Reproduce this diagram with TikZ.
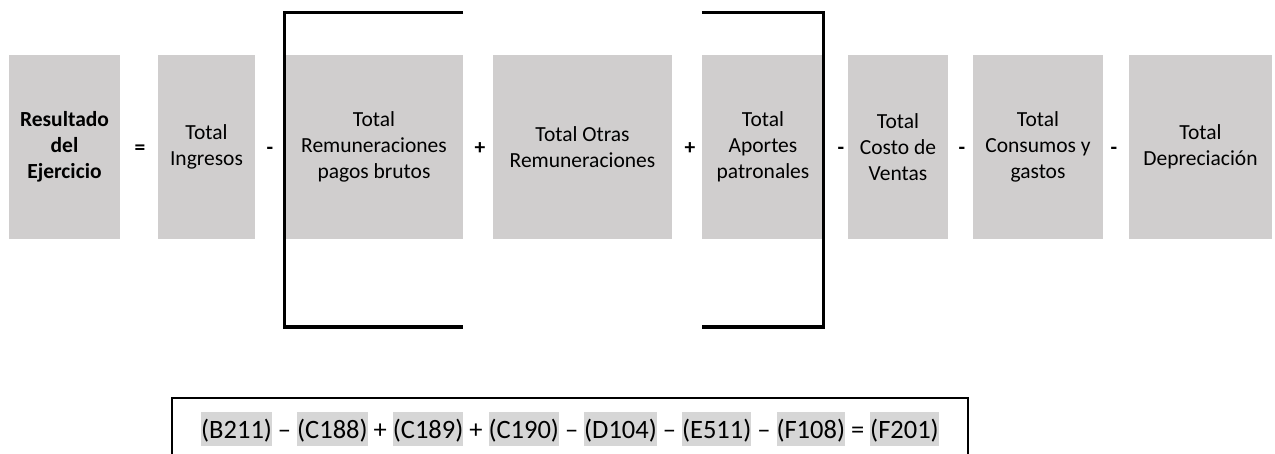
\documentclass[tikz,border=0pt]{standalone}
\usepackage{fontspec}
\setmainfont{Carlito}
\definecolor{boxgray}{RGB}{208,206,206}
\definecolor{refgray}{RGB}{214,214,214}
\newcommand{\cellref}[1]{{\setlength{\fboxsep}{0pt}\colorbox{refgray}{\rule[-0.28em]{0pt}{1.25em}#1}}}
\tikzset{
  termbox/.style={fill=boxgray, inner sep=0pt, minimum height=184pt, align=center,
    font=\fontsize{21.5}{26}\selectfont},
  opsign/.style={anchor=base, inner sep=0pt, font=\fontsize{21.5}{26}\selectfont\bfseries},
  bracketline/.style={line width=3.2pt},
}
\begin{document}
\begin{tikzpicture}[x=1pt,y=-1pt]
  \useasboundingbox (0,0) rectangle (1275,454);
  \clip (0,0) rectangle (1275,454);

  % terms
  \node[termbox, minimum width=111pt, font=\fontsize{21.5}{26}\selectfont\bfseries] (res) at (64.5,147) {Resultado\\del\\Ejercicio};
  \node[termbox, minimum width=97pt] (ingresos) at (206.5,147) {Total\\Ingresos};
  \node[termbox, minimum width=178pt] (remun) at (374,147) {Total\\Remuneraciones\\pagos brutos};
  \node[termbox, minimum width=179pt] (otras) at (582.5,147) {Total Otras\\Remuneraciones};
  \node[termbox, minimum width=122pt] (aportes) at (763,147) {Total\\Aportes\\patronales};
  \node[termbox, minimum width=100pt] (costo) at (898,147) {Total\\Costo de\\Ventas};
  \node[termbox, minimum width=130pt] (consumos) at (1038,147) {Total\\Consumos y\\gastos};
  \node[termbox, minimum width=143pt] (deprec) at (1200.5,147) {Total\\Depreciación};

  % signs
  \node[opsign] (eq) at (140,155) {=};
  \node[opsign] (m1) at (270,155) {-};
  \node[opsign] (p1) at (480,155) {+};
  \node[opsign] (p2) at (690,155) {+};
  \node[opsign] (m2) at (841,155) {-};
  \node[opsign] (m3) at (962,155) {-};
  \node[opsign] (m4) at (1114,155) {-};

  % brackets
  \coordinate (lt) at (284.5,12.5);
  \coordinate (lb) at (284.5,327);
  \coordinate (rt) at (823.5,12.5);
  \coordinate (rb) at (823.5,327);
  \draw[bracketline] (remun.east |- lt) -- (lt) -- (lb) -- (remun.east |- lb);
  \draw[bracketline] (aportes.west |- rt) -- (rt) -- (rb) -- (aportes.west |- rb);

  % formula
  \node[draw, line width=1.6pt, minimum width=796pt, minimum height=62pt, inner sep=0pt,
    font=\fontsize{26.5}{32}\selectfont] (formula) at (570,429)
    {\cellref{(B211)} – \cellref{(C188)} + \cellref{(C189)} + \cellref{(C190)} – \cellref{(D104)} – \cellref{(E511)} – \cellref{(F108)} = \cellref{(F201)}};
\end{tikzpicture}
\end{document}
